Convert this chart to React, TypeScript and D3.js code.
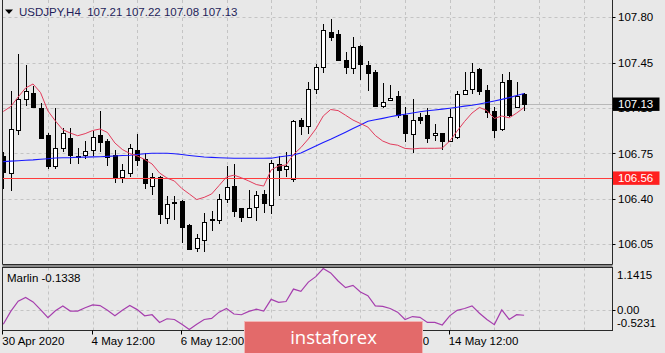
import * as d3 from "d3";
import { useEffect } from "react";

const W = 665;
const H = 353;

// H4 bars, 30 Apr 12:00 .. 15 May
const opens = [
  106.73, 106.6, 106.93, 107.17, 107.22, 107.1, 106.89, 106.65, 106.79, 106.87,
  106.73, 106.74, 106.78, 106.89, 106.85, 106.74, 106.57, 106.6, 106.78, 106.71,
  106.5, 106.57, 106.25, 106.37, 106.38, 106.2, 106.02, 106.08, 106.24, 106.24,
  106.4, 106.5, 106.33, 106.26, 106.34, 106.44, 106.35, 106.67, 106.63, 106.55,
  107.01, 106.96, 107.25, 107.42, 107.69, 107.67, 107.47, 107.41, 107.58, 107.43,
  107.38, 107.12, 107.16, 107.19, 107.05, 106.9, 107.03, 107.05, 106.89, 106.91,
  106.85, 106.88, 107.21, 107.25, 107.4, 107.24, 107.08, 106.94, 107.32, 107.11,
  107.21,
];
const highs = [
  106.76, 107.23, 107.52, 107.43, 107.27, 107.14, 106.91, 107.1, 106.95, 106.95,
  106.79, 106.85, 106.92, 107.08, 106.86, 106.78, 106.67, 106.82, 106.9, 106.75,
  106.6, 106.58, 106.42, 106.42, 106.39, 106.21, 106.13, 106.29, 106.31, 106.44,
  106.65, 106.67, 106.33, 106.47, 106.46, 106.47, 106.7, 106.73, 106.76, 107.01,
  107.02, 107.3, 107.44, 107.75, 107.79, 107.7, 107.53, 107.65, 107.59, 107.46,
  107.39, 107.29, 107.28, 107.23, 107.11, 107.17, 107.06, 107.1, 106.98, 106.91,
  107.09, 107.23, 107.38, 107.45, 107.41, 107.28, 107.11, 107.36, 107.38, 107.3,
  107.22,
];
const lows = [
  106.48, 106.46, 106.89, 107.12, 107.1, 106.87, 106.63, 106.63, 106.76, 106.67,
  106.67, 106.71, 106.73, 106.76, 106.65, 106.52, 106.52, 106.57, 106.65, 106.48,
  106.43, 106.21, 106.21, 106.24, 106.06, 106.01, 105.99, 105.99, 106.15, 106.21,
  106.37, 106.26, 106.22, 106.26, 106.23, 106.29, 106.28, 106.42, 106.57, 106.53,
  106.89, 106.9, 107.21, 107.37, 107.62, 107.47, 107.36, 107.36, 107.32, 107.23,
  107.11, 107.1, 107.16, 107.02, 106.84, 106.75, 106.98, 106.83, 106.85, 106.78,
  106.84, 106.86, 107.2, 107.21, 107.2, 107.02, 106.87, 106.92, 107.03, 107.1,
  107.08,
];
const closes = [
  106.61, 106.94, 107.17, 107.23, 107.11, 106.87, 106.65, 106.79, 106.91, 106.74,
  106.72, 106.77, 106.88, 106.84, 106.72, 106.56, 106.62, 106.79, 106.7, 106.52,
  106.57, 106.28, 106.36, 106.375, 106.18, 106.01, 106.1, 106.22, 106.245, 106.4,
  106.49, 106.31, 106.26, 106.33, 106.43, 106.37, 106.68, 106.62, 106.65, 107.0,
  106.96, 107.25, 107.42, 107.7, 107.65, 107.47, 107.42, 107.57, 107.44, 107.37,
  107.12, 107.15, 107.18, 107.05, 106.91, 107.01, 107.01, 106.87, 106.91, 106.85,
  107.03, 107.21, 107.24, 107.38, 107.23, 107.07, 106.93, 107.3, 107.05, 107.19,
  107.13,
];

// moving averages (red = fast, blue = slow)
const maRed = [
  107.074, 107.112, 107.186, 107.255, 107.286, 107.22, 107.078, 107.001, 106.933, 106.908,
  106.887, 106.903, 106.927, 106.939, 106.912, 106.831, 106.781, 106.75, 106.731, 106.704,
  106.669, 106.6, 106.561, 106.538, 106.48, 106.438, 106.395, 106.412, 106.438, 106.503,
  106.569, 106.583, 106.563, 106.538, 106.511, 106.499, 106.623, 106.654, 106.661, 106.742,
  106.796, 106.862, 106.939, 107.039, 107.089, 107.081, 107.045, 107.008, 106.981, 106.954,
  106.889, 106.846, 106.823, 106.814, 106.789, 106.785, 106.79, 106.79, 106.79, 106.792,
  106.846, 106.923, 106.997, 107.062, 107.105, 107.081, 107.02, 107.039, 107.025, 107.062,
  107.105,
];
const maBlue = [
  106.687, 106.691, 106.694, 106.698, 106.701, 106.706, 106.71, 106.715, 106.717, 106.718,
  106.721, 106.722, 106.724, 106.725, 106.728, 106.731, 106.734, 106.737, 106.742, 106.748,
  106.752, 106.752, 106.752, 106.748, 106.742, 106.735, 106.729, 106.723, 106.72, 106.717,
  106.715, 106.713, 106.713, 106.713, 106.713, 106.713, 106.714, 106.723, 106.731, 106.738,
  106.754, 106.781, 106.808, 106.835, 106.859, 106.886, 106.914, 106.942, 106.97, 106.998,
  107.01, 107.021, 107.033, 107.044, 107.053, 107.062, 107.072, 107.079, 107.085, 107.092,
  107.099, 107.107, 107.115, 107.122, 107.132, 107.143, 107.155, 107.167, 107.181, 107.197,
  107.213,
];

// Marlin oscillator
const marlin = [
  -0.38, -0.03, 0.25, 0.35, 0.23, 0.02, -0.2, -0.01, 0.12, -0.02,
  -0.02, 0.07, 0.15, 0.13, 0.0, -0.15, 0.0, 0.13, 0.02, -0.15,
  -0.12, -0.33, -0.23, -0.25, -0.38, -0.5231, -0.38, -0.25, -0.22, -0.05,
  0.05, -0.1, -0.12, -0.03, 0.03, -0.02, 0.3, 0.22, 0.24, 0.58,
  0.52, 0.77, 0.92, 1.1415, 1.02, 0.8, 0.62, 0.68, 0.5, 0.4,
  0.12, 0.11, 0.05, -0.05, -0.25, -0.17, -0.19, -0.33, -0.33, -0.4,
  -0.15, 0.0, 0.05, 0.12, -0.08, -0.25, -0.39, 0.01, -0.25, -0.12,
  -0.1338,
];

const priceTicks = [107.8, 107.45, 107.1, 106.75, 106.4, 106.05];
const marlinTicks = [1.1415, 0, -0.5231];
const timeLabels = ["30 Apr 2020", "4 May 12:00", "6 May 12:00", "8 May 12:00", "12 May 12:00", "14 May 12:00"];
const timeLabelBars = [0, 12, 24, 36, 48, 60];
const levelPrice = 106.56;
const lastPrice = 107.13;
const title = "USDJPY,H4  107.21 107.22 107.08 107.13";

const FONT = "'Liberation Sans', Arial, sans-serif";

export default function App() {
  useEffect(() => {
    document.body.style.margin = "0";
  }, []);

  const left = 2.5;
  const right = 612.5;
  const mainBottom = 264.5;
  const oscTop = 267.5;
  const oscBottom = 330.5;

  const x = d3.scaleLinear().domain([0, 82]).range([3.3, 3.3 + 82 * 7.44]);
  const y = d3.scaleLinear().domain([106.05, 107.8]).range([244.3, 17.3]);
  const yo = d3.scaleLinear().domain([-0.5231, 1.1415]).range([329.5, 268.5]);

  const idx = d3.range(opens.length);
  const gridBars = d3.range(6, 82, 6);

  const maLine = d3
    .line<number>()
    .x((d, i) => x(i))
    .y((d) => y(d));
  const oscLine = d3
    .line<number>()
    .x((d, i) => x(i))
    .y((d) => yo(d));

  const px = (v: number) => Math.round(v) + 0.5;

  return (
    <svg
      width={W}
      height={H}
      style={{ position: "absolute", left: 0, top: 0, display: "block" }}
      fontFamily={FONT}
    >
      <rect width={W} height={H} fill="#e8e8e8" />
      <defs>
        <clipPath id="main-clip">
          <rect x={left} y={0} width={right - left} height={mainBottom} />
        </clipPath>
        <clipPath id="osc-clip">
          <rect x={left} y={oscTop} width={right - left} height={oscBottom - oscTop} />
        </clipPath>
      </defs>

      {/* grid */}
      <g stroke="#c4c4c4" strokeDasharray="3,3" strokeWidth={1}>
        {gridBars.map((b) => (
          <g key={b}>
            <line x1={px(x(b))} x2={px(x(b))} y1={0} y2={mainBottom} />
            <line x1={px(x(b))} x2={px(x(b))} y1={oscTop} y2={oscBottom} />
          </g>
        ))}
        {priceTicks.map((t) => (
          <line key={t} x1={left} x2={right} y1={px(y(t))} y2={px(y(t))} />
        ))}
        <line x1={left} x2={right} y1={px(yo(0))} y2={px(yo(0))} />
      </g>

      {/* last price line */}
      <line x1={left} x2={right} y1={px(y(lastPrice))} y2={px(y(lastPrice))} stroke="#b8b8b8" />

      {/* candles */}
      <g clipPath="url(#main-clip)">
        {idx.map((i) => {
          const cx = Math.round(x(i));
          const o = opens[i];
          const c = closes[i];
          const top = Math.round(y(Math.max(o, c)));
          const bot = Math.round(y(Math.min(o, c)));
          const bull = c > o;
          return (
            <g key={i}>
              <line
                x1={cx + 0.5}
                x2={cx + 0.5}
                y1={Math.round(y(highs[i]))}
                y2={Math.round(y(lows[i]))}
                stroke="#000"
              />
              {bot - top < 1 ? (
                <line x1={cx - 2} x2={cx + 3} y1={top + 0.5} y2={top + 0.5} stroke="#000" />
              ) : bull ? (
                <rect x={cx - 1.5} y={top + 0.5} width={4} height={bot - top} fill="#fff" stroke="#000" />
              ) : (
                <rect x={cx - 2} y={top} width={5} height={bot - top + 1} fill="#000" />
              )}
            </g>
          );
        })}

        {/* level line */}
        <line x1={left} x2={right} y1={px(y(levelPrice))} y2={px(y(levelPrice))} stroke="#ff3b3b" strokeWidth={1.2} />

        <path d={maLine(maBlue) ?? ""} fill="none" stroke="#1a1aff" strokeWidth={1.1} />
        <path d={maLine(maRed) ?? ""} fill="none" stroke="#e23c5c" strokeWidth={1} />
      </g>

      {/* oscillator */}
      <g clipPath="url(#osc-clip)">
        <path d={oscLine(marlin) ?? ""} fill="none" stroke="#a63fae" strokeWidth={1.2} />
      </g>

      {/* frames */}
      <g fill="none" stroke="#2a2a2a" strokeWidth={1}>
        <path d={`M${left},-1V${mainBottom}H${right}V-1`} />
        <rect x={left} y={oscTop} width={right - left} height={oscBottom - oscTop} />
      </g>
      <rect x={left} y={mainBottom + 0.5} width={right - left} height={2} fill="#8a8a8a" />

      {/* price axis */}
      <g fontSize={11.5} fill="#000">
        {priceTicks.map((t) => (
          <g key={t}>
            <line x1={right} x2={right + 3} y1={px(y(t))} y2={px(y(t))} stroke="#000" />
            <text x={618} y={y(t)} dy="0.36em">
              {t.toFixed(2)}
            </text>
          </g>
        ))}
      </g>
      <g>
        <rect x={613} y={y(lastPrice) - 6.7} width={46.5} height={13.4} fill="#000" />
        <text x={618} y={y(lastPrice)} dy="0.36em" fontSize={11.5} fill="#fff">
          {lastPrice.toFixed(2)}
        </text>
        <rect x={613} y={y(levelPrice) - 6.7} width={46.5} height={13.4} fill="#ff2020" />
        <text x={618} y={y(levelPrice)} dy="0.36em" fontSize={11.5} fill="#fff">
          {levelPrice.toFixed(2)}
        </text>
      </g>

      {/* oscillator axis */}
      <g fontSize={11.5} fill="#000">
        {marlinTicks.map((t, k) => {
          const yy = k === 0 ? yo(t) + 6.5 : k === 2 ? yo(t) - 6.5 : yo(t);
          return (
            <g key={t}>
              {t === 0 && <line x1={right} x2={right + 3} y1={px(yo(t))} y2={px(yo(t))} stroke="#000" />}
              <text x={617} y={yy} dy="0.36em">
                {t === 0 ? "0.00" : t.toFixed(4)}
              </text>
            </g>
          );
        })}
      </g>

      {/* time axis */}
      <g fontSize={11.5} fill="#000">
        {timeLabelBars.map((b, k) => (
          <g key={b}>
            <line x1={px(x(b)) - 1} x2={px(x(b)) - 1} y1={oscBottom} y2={oscBottom + 4} stroke="#000" />
            <text x={x(b) - 1} y={345}>
              {timeLabels[k]}
            </text>
          </g>
        ))}
      </g>

      {/* titles */}
      <path d="M5,9.5h8l-4,4.5z" fill="#000" />
      <text x={19} y={15.5} fontSize={11.5} fill="#1e1e5a" style={{ whiteSpace: "pre" }}>
        {title}
      </text>
      <text x={7} y={281.5} fontSize={11.5} fill="#000">
        Marlin {marlin[marlin.length - 1].toFixed(4)}
      </text>

      {/* watermark */}
      <rect x={244.5} y={321.5} width={178} height={34} fill="#e36a6a" stroke="#f3b4b4" strokeWidth={1} />
      <text
        x={333.5}
        y={343.5}
        textAnchor="middle"
        fontSize={18.5}
        fill="#fff"
        fontFamily="'Open Sans', 'Noto Sans', sans-serif"
      >
        instaforex
      </text>
    </svg>
  );
}
